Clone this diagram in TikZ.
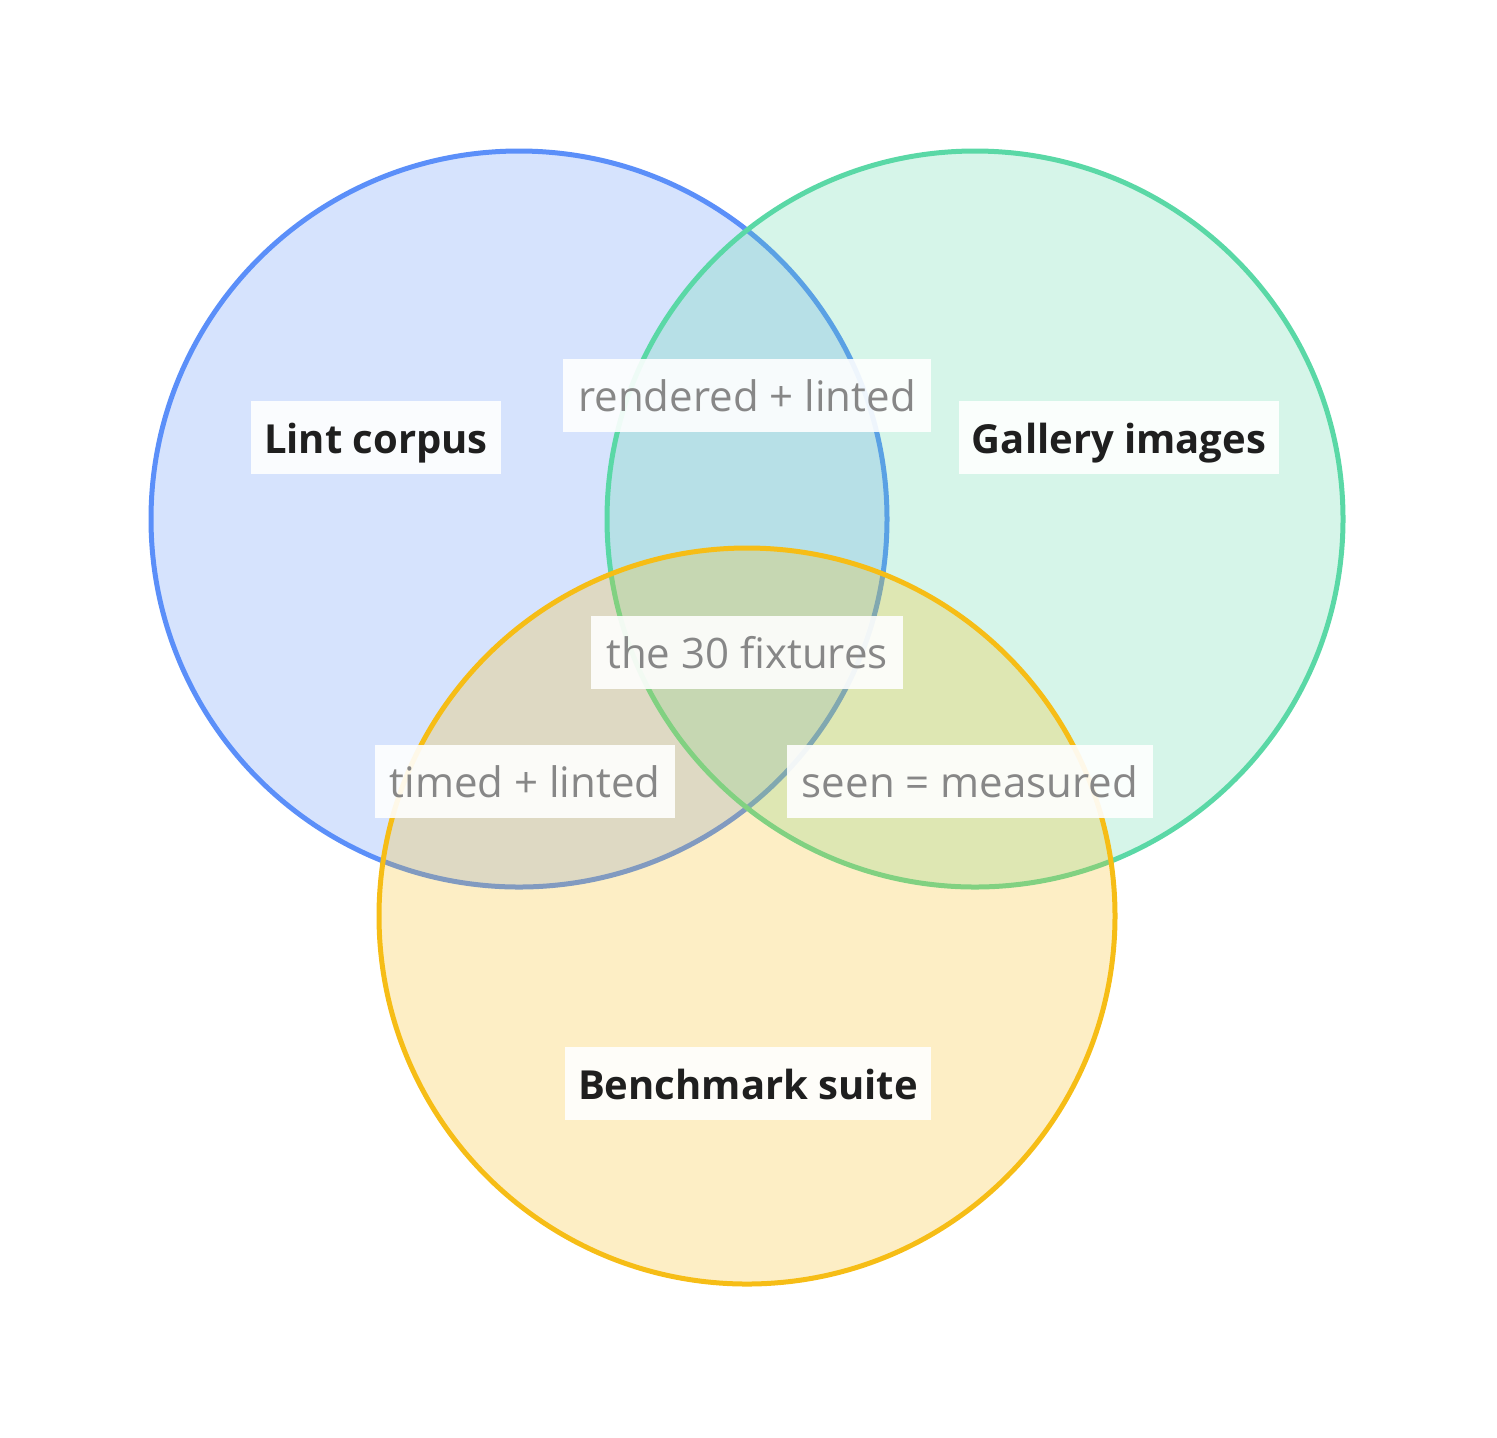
\documentclass[tikz,border=0pt]{standalone}
\usepackage{fontspec}
\setmainfont{Open Sans}
\usepackage{xcolor}
\usetikzlibrary{positioning}
\definecolor{lintblue}{HTML}{5B8FF9}
\definecolor{gallerygreen}{HTML}{5AD8A6}
\definecolor{benchyellow}{HTML}{F6BD16}
\definecolor{settext}{HTML}{1F1F1F}
\definecolor{overlaptext}{HTML}{878787}
\tikzset{
  setcircle/.style={line width=2.5pt, draw=#1, fill=#1, fill opacity=.25},
  setlabel/.style={fill=white, fill opacity=.9, text opacity=1, text=settext,
    font=\fontsize{20}{24}\selectfont\bfseries, inner xsep=6.5pt, inner ysep=0pt,
    text height=26.5pt, text depth=10pt},
  overlaplabel/.style={setlabel, text=overlaptext, font=\fontsize{21}{25}\selectfont,
    inner xsep=7.5pt}
}

\begin{document}
\begin{tikzpicture}[x=0.5pt,y=-0.5pt]
\useasboundingbox (0,0) rectangle (1497,1437);
% the three sets
\coordinate (lint) at (519,519);
\coordinate (gallery) at (975,519);
\coordinate (bench) at (747,916);
\draw[setcircle=lintblue] (lint) circle (184pt);
\draw[setcircle=gallerygreen] (gallery) circle (184pt);
\draw[setcircle=benchyellow] (bench) circle (184pt);
% set names
\node[setlabel] (lintname) at (376,437) {Lint corpus};
\node[setlabel] (galleryname) at (1119,437) {Gallery images};
\node[setlabel] (benchname) at (748,1083) {Benchmark suite};
% overlaps
\node[overlaplabel] (lintgallery) at (747,395) {rendered + linted};
\node[overlaplabel] (allthree) at (747,652) {the 30 fixtures};
\node[overlaplabel] (lintbench) at (525,781) {timed + linted};
\node[overlaplabel] (gallerybench) at (970,781) {seen = measured};
\end{tikzpicture}
\end{document}
